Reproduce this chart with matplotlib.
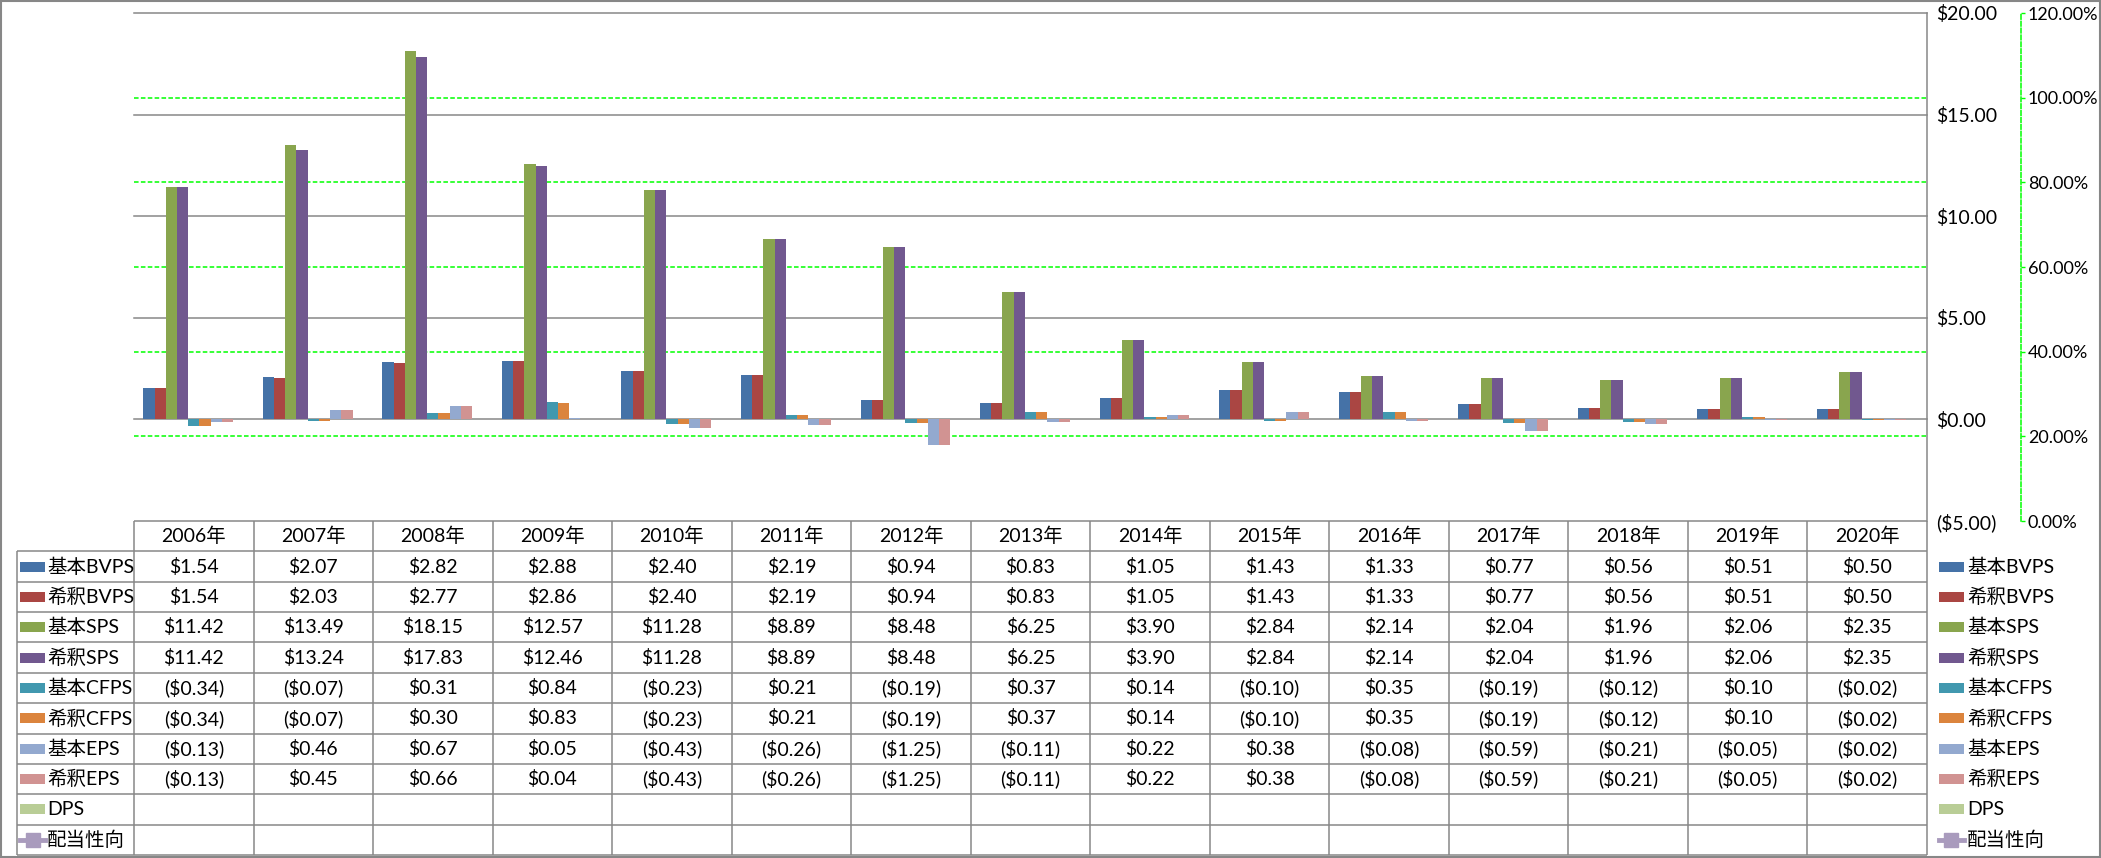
import matplotlib
matplotlib.use("Agg")
import matplotlib.pyplot as plt
from matplotlib.patches import Rectangle
from matplotlib.lines import Line2D
import numpy as np

plt.rcParams['font.family'] = ['Lato', 'Noto Sans CJK JP', 'DejaVu Sans']

years = ['2006年', '2007年', '2008年', '2009年', '2010年', '2011年', '2012年', '2013年',
         '2014年', '2015年', '2016年', '2017年', '2018年', '2019年', '2020年']

bvps = [1.54, 2.07, 2.82, 2.88, 2.40, 2.19, 0.94, 0.83, 1.05, 1.43, 1.33, 0.77, 0.56, 0.51, 0.50]
bvps_d = [1.54, 2.03, 2.77, 2.86, 2.40, 2.19, 0.94, 0.83, 1.05, 1.43, 1.33, 0.77, 0.56, 0.51, 0.50]
sps = [11.42, 13.49, 18.15, 12.57, 11.28, 8.89, 8.48, 6.25, 3.90, 2.84, 2.14, 2.04, 1.96, 2.06, 2.35]
sps_d = [11.42, 13.24, 17.83, 12.46, 11.28, 8.89, 8.48, 6.25, 3.90, 2.84, 2.14, 2.04, 1.96, 2.06, 2.35]
cfps = [-0.34, -0.07, 0.31, 0.84, -0.23, 0.21, -0.19, 0.37, 0.14, -0.10, 0.35, -0.19, -0.12, 0.10, -0.02]
cfps_d = [-0.34, -0.07, 0.30, 0.83, -0.23, 0.21, -0.19, 0.37, 0.14, -0.10, 0.35, -0.19, -0.12, 0.10, -0.02]
eps = [-0.13, 0.46, 0.67, 0.05, -0.43, -0.26, -1.25, -0.11, 0.22, 0.38, -0.08, -0.59, -0.21, -0.05, -0.02]
eps_d = [-0.13, 0.45, 0.66, 0.04, -0.43, -0.26, -1.25, -0.11, 0.22, 0.38, -0.08, -0.59, -0.21, -0.05, -0.02]
dps = [None] * 15
payout = [None] * 15

bar_names = ['基本BVPS', '希釈BVPS', '基本SPS', '希釈SPS', '基本CFPS', '希釈CFPS',
             '基本EPS', '希釈EPS', 'DPS']
bar_data = [bvps, bvps_d, sps, sps_d, cfps, cfps_d, eps, eps_d, dps]
bar_colors = ['#4572A7', '#AA4643', '#89A54E', '#71588F', '#4198AF', '#DB843D',
              '#93A9CF', '#D19392', '#B9CD96']
line_name = '配当性向'
line_color = '#A99BBD'

grid_gray = '#878787'
lime = '#00FF00'
FS = 14

W, H = 2101, 858
fig = plt.figure(figsize=(W / 100, H / 100), dpi=100)

# plot area in pixels
pl, pr, pt, pb = 134, 1927, 13, 521
ax = fig.add_axes([pl / W, 1 - pb / H, (pr - pl) / W, (pb - pt) / H])
ax2 = ax.twinx()
ax.set_zorder(ax2.get_zorder() + 1)
ax.patch.set_visible(False)

x = np.arange(len(years))
bw = 0.0937
for i, (vals, c) in enumerate(zip(bar_data, bar_colors)):
    v = np.array([np.nan if a is None else a for a in vals], dtype=float)
    ax.bar(x + (i - 4) * bw, v, width=bw, color=c, linewidth=0, zorder=3)

ax.set_xlim(-0.5, len(years) - 0.5)
ax.set_ylim(-5, 20)
yt = [-5, 0, 5, 10, 15, 20]
ax.set_yticks(yt, labels=[f"${v:.2f}" if v >= 0 else f"(${-v:.2f})" for v in yt])
for lbl, t in zip(ax.get_yticklabels(), yt):
    if t < 0:
        lbl.set_color('#FF0000')
ax.yaxis.tick_right()
ax.tick_params(axis='y', length=0, pad=6.5, labelsize=FS)
ax.set_xticks([])
for t in yt[1:]:
    ax.axhline(t, color=grid_gray, linewidth=1.1, zorder=1, clip_on=False)
for s in ['top', 'left', 'bottom']:
    ax.spines[s].set_visible(False)
ax.spines['right'].set_color(grid_gray)
ax.spines['right'].set_linewidth(1.1)

# secondary axis (empty line series)
ax2.plot(x, np.array([np.nan if a is None else a for a in payout], dtype=float),
         color=line_color, marker='s')
ax2.set_ylim(0, 1.2)
pt2 = [0, 0.2, 0.4, 0.6, 0.8, 1.0, 1.2]
ax2.set_yticks(pt2, labels=[f"{v * 100:.2f}%" for v in pt2])
ax2.tick_params(axis='y', direction='out', length=3, width=1, color=lime,
                pad=2, labelsize=13)
for t in pt2[1:-1]:
    ax2.axhline(t, color=lime, linewidth=1.1, linestyle=(0, (3, 1.5)))
for s in ['top', 'left', 'bottom']:
    ax2.spines[s].set_visible(False)
ax2.spines['right'].set_position(('axes', (2021 - pl) / (pr - pl)))
ax2.spines['right'].set_color(lime)
ax2.spines['right'].set_linestyle((0, (3, 1.5)))
ax2.spines['right'].set_linewidth(1.1)

# data table
tl, tb = 17, 855
colw = (pr - pl) / len(years)
x_left = -0.5 - (pl - tl) / colw
nrows = 11
tax = fig.add_axes([tl / W, 1 - tb / H, (pr - tl) / W, (tb - pb) / H])
tax.set_xlim(x_left, len(years) - 0.5)
tax.set_ylim(nrows, 0)
tax.axis('off')

lk = dict(color=grid_gray, linewidth=1.1, clip_on=False, solid_capstyle='butt')
tax.plot([-0.5, len(years) - 0.5], [0, 0], **lk)
for r in range(1, nrows + 1):
    tax.plot([x_left, len(years) - 0.5], [r, r], **lk)
tax.plot([x_left, x_left], [1, nrows], **lk)
for k in range(len(years) + 1):
    tax.plot([k - 0.5, k - 0.5], [0, nrows], **lk)

for j, yr in enumerate(years):
    tax.text(j, 0.5, yr, ha='center', va='center', fontsize=FS)


def fmt(v):
    if v is None:
        return ''
    return f"${v:.2f}" if v >= 0 else f"(${-v:.2f})"


row_names = bar_names + [line_name]
row_data = bar_data + [payout]
row_colors = bar_colors + [line_color]
px = 1 / colw
rh = 10 / ((tb - pb) / nrows)
for r, (name, vals, c) in enumerate(zip(row_names, row_data, row_colors)):
    yc = r + 1.5
    for j, v in enumerate(vals):
        tax.text(j, yc, fmt(v), ha='center', va='center', fontsize=FS)
    for sx, tx in [(x_left + 3 * px, x_left + 30 * px),
                   (len(years) - 0.5 + 12 * px, len(years) - 0.5 + 40 * px)]:
        if name == line_name:
            tax.add_line(Line2D([sx, sx + 25 * px], [yc, yc], color=c, linewidth=3.5,
                                clip_on=False))
            tax.plot([sx + 12.5 * px], [yc], marker='s', markersize=10, color=c,
                     clip_on=False)
        else:
            tax.add_patch(Rectangle((sx, yc - rh / 2), 25 * px, rh, facecolor=c,
                                    edgecolor='none', clip_on=False))
        tax.text(tx, yc, name, ha='left', va='center', fontsize=FS)

# outer border
fig.add_artist(Rectangle((0.0005, 0.001), 0.999, 0.998, transform=fig.transFigure,
                         fill=False, edgecolor=grid_gray, linewidth=1.5))

fig.savefig('out.png', dpi=100)
